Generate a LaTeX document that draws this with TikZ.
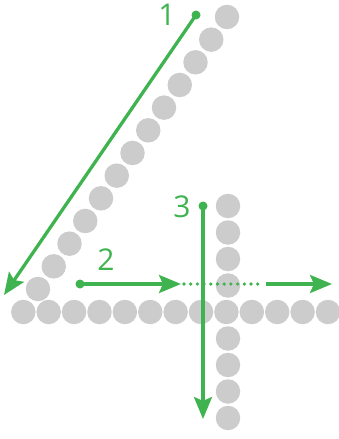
\documentclass[tikz,border=0pt]{standalone}
\usepackage{fontspec}
\setmainfont{Open Sans}
\usetikzlibrary{arrows.meta}
\definecolor{stepgreen}{HTML}{3FB34F}
\definecolor{ballgray}{HTML}{CCCCCC}

\begin{document}
\begin{tikzpicture}[x=1pt, y=-1pt,
    ball/.style={circle, fill=ballgray, inner sep=0pt, minimum size=24.5pt},
    startdot/.style={circle, fill=stepgreen, inner sep=0pt, minimum size=9pt},
    stroke/.style={stepgreen, line width=3.3pt},
    tip/.style={-{Stealth[length=22pt, width=18pt, inset=4pt]}},
    dotline/.style={stepgreen, line width=3.6pt, line cap=round, dash pattern=on 0pt off 6.7pt},
    num/.style={stepgreen, inner sep=0pt, font=\fontsize{30}{30}\selectfont}]
    \useasboundingbox (0,0) rectangle (339,439);

    % grey balls of the four
    \foreach \i in {0,...,12}
        \node[ball] (diag\i) at ({38+15.75*\i}, {289-22.67*\i}) {};
    \foreach \i in {0,...,12}
        \node[ball] (base\i) at ({23.3+25.39*\i}, 312) {};
    \foreach \i in {1,...,4} {
        \node[ball] (up\i) at (228, {312-26.5*\i}) {};
        \node[ball] (down\i) at (228, {312+26.5*\i}) {};
    }

    % stroke 1
    \node[startdot] (s1) at (196,15) {};
    \node[num] (n1) at (167,15) {1};
    \coordinate (e1) at (4,295);
    \draw[stroke, tip] (s1.center) -- (e1);

    % stroke 2
    \node[startdot] (s2) at (80,284) {};
    \node[num] (n2) at (106,260) {2};
    \coordinate (h2) at (181,284);
    \coordinate (r2) at (266,284);
    \coordinate (e2) at (332,284);
    \draw[stroke, tip] (s2.center) -- (h2);
    \draw[dotline, shorten <=3pt, shorten >=3pt] (h2) -- (r2);
    \draw[stroke, tip] (r2) -- (e2);

    % stroke 3
    \node[startdot] (s3) at (203,206) {};
    \node[num] (n3) at (182,207) {3};
    \coordinate (e3) at (203,419);
    \draw[stroke, tip] (s3.center) -- (e3);
\end{tikzpicture}
\end{document}
